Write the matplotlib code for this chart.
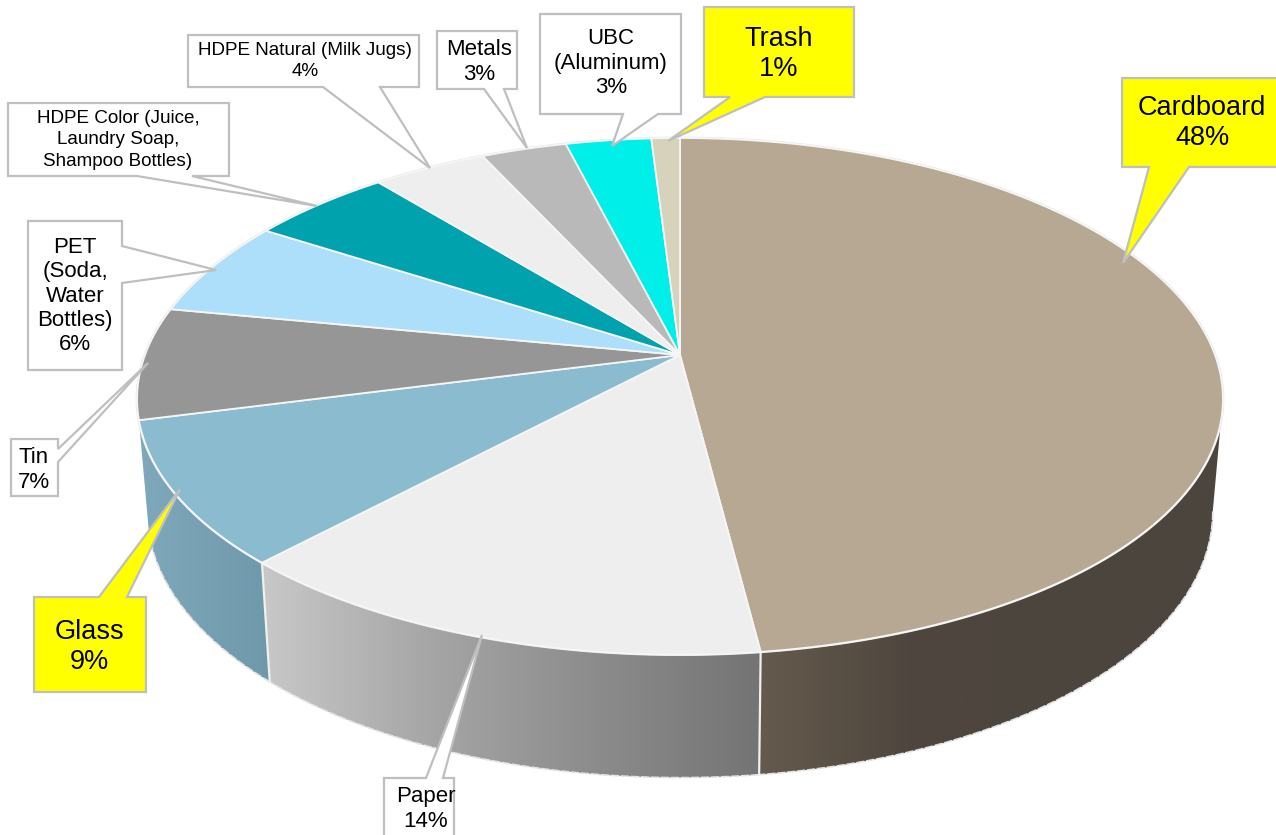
import numpy as np
import matplotlib
matplotlib.use("Agg")
import matplotlib.pyplot as plt
from matplotlib.colors import LinearSegmentedColormap
from matplotlib.patches import Polygon

plt.rcParams["font.family"] = ["Liberation Sans", "DejaVu Sans"]

categories = ["Cardboard", "Paper", "Glass", "Tin", "PET (Soda, Water Bottles)",
              "HDPE Color (Juice, Laundry Soap, Shampoo Bottles)",
              "HDPE Natural (Milk Jugs)", "Metals", "UBC (Aluminum)", "Trash"]
percents = [48, 14, 9, 7, 6, 5, 4, 3, 3, 1]
top_colors = ["#b7a894", "#eeeeee", "#8bbbcf", "#969696", "#addffb",
              "#00a3ad", "#eeeeee", "#b9b9b9", "#00efe9", "#d6d2bc"]
wall_colors = {
    "Cardboard": ["#655a4d", "#4e463e", "#4c453e", "#4c453e"],
    "Paper": ["#c8c8c8", "#a6a6a6", "#8c8c8c", "#747474"],
    "Glass": ["#7fa9ba", "#6f98aa"],
}

# perspective of the pie, in pixels
W, H = 1276, 835
KX, KY = 0.17, 0.16
TOP = (680, 355, 535, 251.7)
BOTTOM = (680, 465.7, 525, 262)


def project(frac, plane):
    ang = 2 * np.pi * np.asarray(frac)
    u, v = np.sin(ang), np.cos(ang)
    return plane[0] + plane[2] * u / (1 + KX * v), plane[1] - plane[3] * v / (1 + KY * v)


def arc(f0, f1, plane):
    fr = np.linspace(f0, f1, max(int((f1 - f0) * 600), 8))
    x, y = project(fr, plane)
    return np.column_stack([x, y])


def callout(ax, box, tail, side, face):
    x0, y0, x1, y1 = box
    a, tip, b = tail
    if side == "top":
        pts = [(x0, y0), a, tip, b, (x1, y0), (x1, y1), (x0, y1)]
    elif side == "bottom":
        pts = [(x0, y0), (x1, y0), (x1, y1), b, tip, a, (x0, y1)]
    else:
        pts = [(x0, y0), (x1, y0), a, tip, b, (x1, y1), (x0, y1)]
    ax.add_patch(Polygon(pts, closed=True, facecolor=face, edgecolor="#bfbfbf",
                         linewidth=1.6, joinstyle="miter", zorder=5))


fig = plt.figure(figsize=(W / 100, H / 100), dpi=100)
ax = fig.add_axes([0, 0, 1, 1])
ax.axis("off")

edges = np.concatenate([[0], np.cumsum(percents)]) / sum(percents)

# side walls, only the front part can be seen
vis0 = (np.pi / 2 + np.arcsin(KX)) / (2 * np.pi)
for i, name in enumerate(categories):
    if name not in wall_colors:
        continue
    f0, f1 = max(edges[i], vis0), edges[i + 1]
    outline = np.vstack([arc(f0, f1, TOP), arc(f0, f1, BOTTOM)[::-1]])
    cmap = LinearSegmentedColormap.from_list(name, wall_colors[name])
    xmin, xmax = outline[:, 0].min(), outline[:, 0].max()
    im = ax.imshow(np.linspace(0, 1, 256)[None, :], cmap=cmap, aspect="auto",
                   extent=(xmin, xmax, outline[:, 1].max(), outline[:, 1].min()), zorder=1)
    patch = Polygon(outline, closed=True, facecolor="none", edgecolor="none",
                    transform=ax.transData)
    ax.add_patch(patch)
    im.set_clip_path(patch)
    ax.plot(*arc(f0, f1, BOTTOM).T, color="#e4e4e4", lw=1.2, ls=(0, (5, 1)), zorder=2)
    if edges[i] >= vis0:
        ax.plot(*np.vstack([project(f0, TOP), project(f0, BOTTOM)]).T,
                color="#f0f0f0", lw=1.6, zorder=2)

# top face
ax.plot(*arc(0, 1, TOP).T, color="#e6e6e6", lw=2, zorder=2)
for i, col in enumerate(top_colors):
    pts = np.vstack([[TOP[:2]], arc(edges[i], edges[i + 1], TOP)])
    ax.add_patch(Polygon(pts, closed=True, facecolor=col, edgecolor="#f6f6f6",
                         linewidth=1.3, joinstyle="round", zorder=3))

# labels
small, mid, big = 13.6, 16, 19.5
callout(ax, (1122, 78, 1290, 167), ((1149, 167), (1123, 263), (1189, 167)), "bottom", "#ffff00")
ax.text(1202, 123, f"Cardboard\n{percents[0]}%", ha="center", va="center", fontsize=big,
        linespacing=1.2, zorder=6)

callout(ax, (384, 778, 454, 850), ((426, 778), (482, 635), (443, 778)), "top", "white")
ax.text(426, 809, f"Paper\n{percents[1]}%", ha="center", va="center", fontsize=mid, zorder=6)

callout(ax, (34, 597, 146, 692), ((99, 597), (180, 489), (127, 597)), "top", "#ffff00")
ax.text(89, 647, f"Glass\n{percents[2]}%", ha="center", va="center", fontsize=big,
        linespacing=1.2, zorder=6)

callout(ax, (11, 439, 58, 496), ((58, 449), (148, 363), (58, 462)), "right", "white")
ax.text(34, 470, f"Tin\n{percents[3]}%", ha="center", va="center", fontsize=mid, zorder=6)

callout(ax, (28, 221, 122, 370), ((122, 246), (216, 270), (122, 283)), "right", "white")
ax.text(75, 296, f"PET\n(Soda,\nWater\nBottles)\n{percents[4]}%", ha="center", va="center",
        fontsize=mid, linespacing=1.2, zorder=6)

callout(ax, (8, 103, 229, 176), ((137, 176), (317, 206), (192, 176)), "bottom", "white")
ax.text(118, 140, "HDPE Color (Juice,\nLaundry Soap,\nShampoo Bottles)", ha="center", va="center",
        fontsize=small, linespacing=1.35, zorder=6)

callout(ax, (188, 35, 419, 87), ((323, 87), (430, 168), (380, 87)), "bottom", "white")
ax.text(305, 61, f"HDPE Natural (Milk Jugs)\n{percents[6]}%", ha="center", va="center",
        fontsize=small, linespacing=1.38, zorder=6)

callout(ax, (437, 31, 517, 89), ((484, 89), (527, 148), (504, 89)), "bottom", "white")
ax.text(479, 62, f"Metals\n{percents[7]}%", ha="center", va="center", fontsize=mid, zorder=6)

callout(ax, (540, 14, 681, 114), ((623, 114), (612, 146), (658, 114)), "bottom", "white")
ax.text(611, 63, f"UBC\n(Aluminum)\n{percents[8]}%", ha="center", va="center",
        fontsize=mid, linespacing=1.2, zorder=6)

callout(ax, (704, 7, 854, 97), ((730, 97), (668, 141), (765, 97)), "bottom", "#ffff00")
ax.text(779, 54, f"Trash\n{percents[9]}%", ha="center", va="center", fontsize=big,
        linespacing=1.25, zorder=6)

ax.set_xlim(0, W)
ax.set_ylim(H, 0)
fig.savefig("out.png", dpi=100, facecolor="white")
